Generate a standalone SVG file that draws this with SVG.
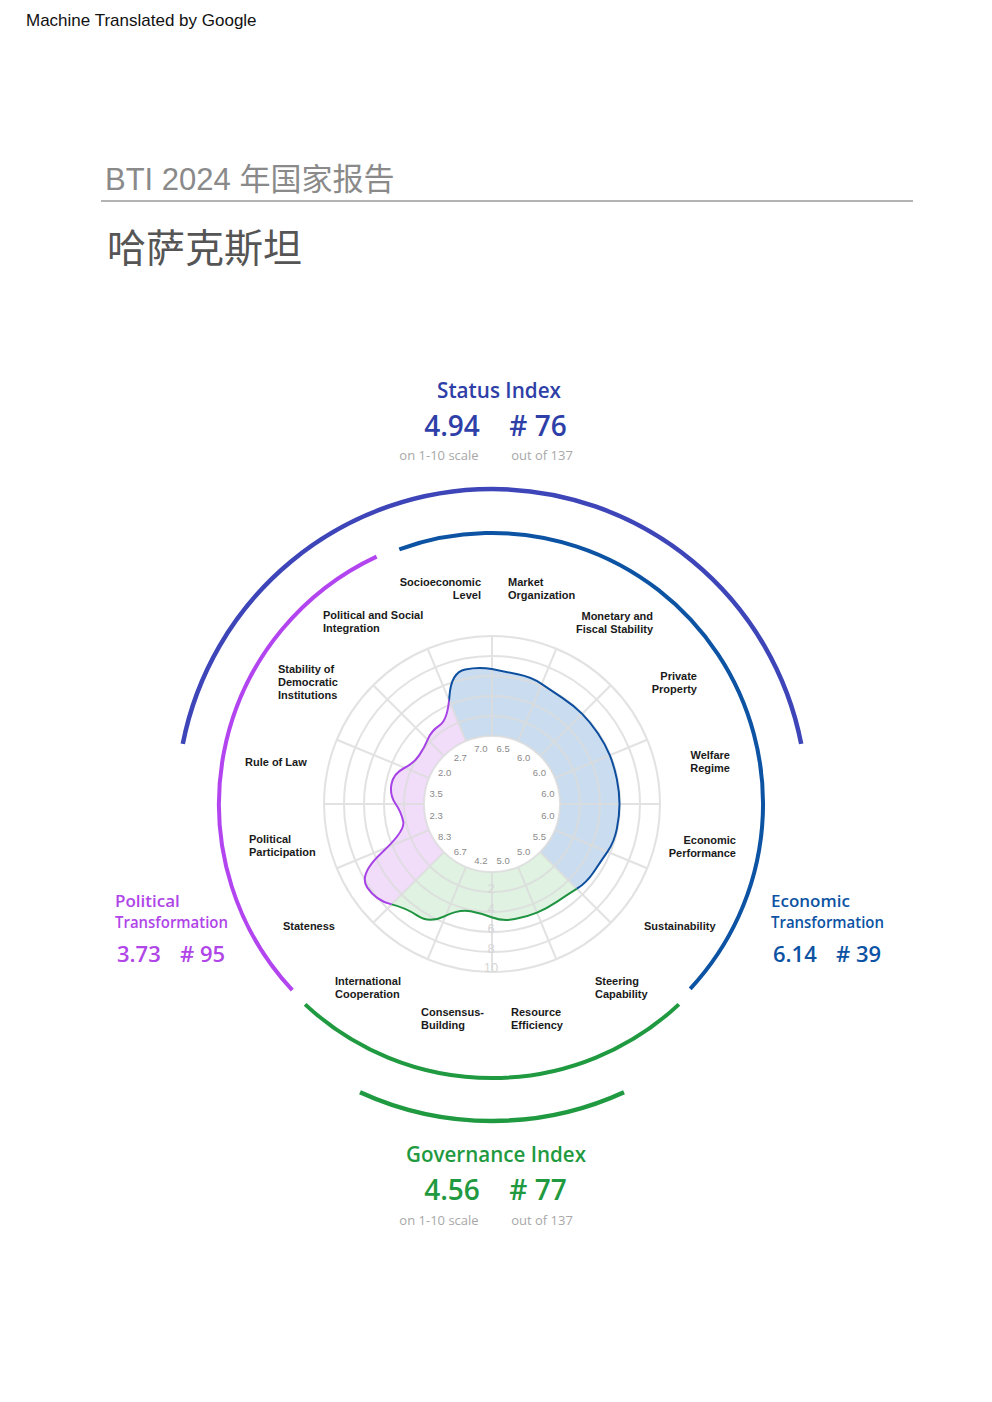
<svg xmlns="http://www.w3.org/2000/svg" width="992" height="1402" viewBox="0 0 992 1402">
<style>
.ax{font-family:"Liberation Sans",Arial,sans-serif;font-size:11px;font-weight:bold;fill:#1a1a1a}
.v{font-family:"Liberation Sans",Arial,sans-serif;font-size:9.5px;fill:#8a8a8a;text-anchor:middle}
.rv{font-family:"Liberation Sans",Arial,sans-serif;font-size:13px;fill:#d6d6d6;text-anchor:middle}
.h{font-family:"Open Sans","Liberation Sans",sans-serif}
.sub{font-family:"Open Sans","Liberation Sans",sans-serif;font-size:13px;fill:#a8a8a8;text-anchor:middle}
.grid{fill:none;stroke:#dcdcdc;stroke-width:2}
</style>
<defs>
<clipPath id="ce"><polygon points="492,804 396.3,573 668.8,627.2 742,804 668.8,980.8"/></clipPath>
<clipPath id="cg"><polygon points="492,804 668.8,980.8 492,1054 315.2,980.8"/></clipPath>
<clipPath id="cp"><polygon points="492,804 315.2,980.8 242,804 315.2,627.2 396.3,573"/></clipPath>
<path id="shape" d="M449.45,696.05 Q451.1,672.2 465.25,669.4 Q479.4,666.6 491.8,669.1 Q504.2,671.6 517.8,674.3 Q531.4,677 541.5,683.85 Q551.6,690.7 562.7,698.15 Q573.8,705.6 582.1,713.9 Q590.4,722.2 597.85,733.3 Q605.3,744.4 609.75,755.2 Q614.2,766 616.85,779.15 Q619.5,792.3 619.5,804 Q619.5,815.7 616.85,828.85 Q614.2,842 607.55,851.65 Q600.9,861.3 593.75,871.95 Q586.6,882.6 577,888.65 Q567.4,894.7 557.15,901.55 Q546.9,908.4 536.95,912.55 Q527,916.7 514.9,919.1 Q502.8,921.5 492.35,917.5 Q481.9,913.5 470.65,911.3 Q459.4,909.1 444.25,916.3 Q429.1,923.5 417.4,915.65 Q405.7,907.8 390.8,904.15 Q375.9,900.5 367.15,887.4 Q358.4,874.3 381.75,852.65 Q405.1,831 403.25,821.65 Q401.4,812.3 395.4,803.45 Q389.4,794.6 391.5,784.05 Q393.6,773.5 403.85,768.25 Q414.1,763 419.2,755.35 Q424.3,747.7 427.8,739.35 Q431.3,731 439.55,725.45 Q447.8,719.9 449.45,696.05 Z"/>
<path id="fillshape" fill-rule="evenodd" d="M449.45,696.05 Q451.1,672.2 465.25,669.4 Q479.4,666.6 491.8,669.1 Q504.2,671.6 517.8,674.3 Q531.4,677 541.5,683.85 Q551.6,690.7 562.7,698.15 Q573.8,705.6 582.1,713.9 Q590.4,722.2 597.85,733.3 Q605.3,744.4 609.75,755.2 Q614.2,766 616.85,779.15 Q619.5,792.3 619.5,804 Q619.5,815.7 616.85,828.85 Q614.2,842 607.55,851.65 Q600.9,861.3 593.75,871.95 Q586.6,882.6 577,888.65 Q567.4,894.7 557.15,901.55 Q546.9,908.4 536.95,912.55 Q527,916.7 514.9,919.1 Q502.8,921.5 492.35,917.5 Q481.9,913.5 470.65,911.3 Q459.4,909.1 444.25,916.3 Q429.1,923.5 417.4,915.65 Q405.7,907.8 390.8,904.15 Q375.9,900.5 367.15,887.4 Q358.4,874.3 381.75,852.65 Q405.1,831 403.25,821.65 Q401.4,812.3 395.4,803.45 Q389.4,794.6 391.5,784.05 Q393.6,773.5 403.85,768.25 Q414.1,763 419.2,755.35 Q424.3,747.7 427.8,739.35 Q431.3,731 439.55,725.45 Q447.8,719.9 449.45,696.05 Z M560,804 A68,68 0 1 0 424,804 A68,68 0 1 0 560,804 Z"/>
</defs>
<rect width="992" height="1402" fill="#fff"/>
<text x="26" y="26" font-family="Liberation Sans,Arial,sans-serif" font-size="17" fill="#111">Machine Translated by Google</text>
<text x="105" y="190" font-family="Liberation Sans,'Noto Sans CJK SC',sans-serif" font-size="31" fill="#8a8a8a">BTI 2024 年国家报告</text>
<line x1="101" y1="201" x2="913" y2="201" stroke="#9a9a9a" stroke-width="1.5"/>
<text x="107" y="262" font-family="'Noto Sans CJK SC',sans-serif" font-size="39" fill="#555">哈萨克斯坦</text>

<g id="fills">
<use href="#fillshape" fill="#cadcef" clip-path="url(#ce)"/>
<use href="#fillshape" fill="#e0f2e2" clip-path="url(#cg)"/>
<use href="#fillshape" fill="#f1ddfa" clip-path="url(#cp)"/>
</g>
<g id="grid" opacity="0.8">
<circle class="grid" cx="492" cy="804" r="68"/>
<circle class="grid" cx="492" cy="804" r="88"/>
<circle class="grid" cx="492" cy="804" r="108"/>
<circle class="grid" cx="492" cy="804" r="128"/>
<circle class="grid" cx="492" cy="804" r="148"/>
<circle class="grid" cx="492" cy="804" r="168"/>
<g transform="translate(492 804)">
<line class="grid" x1="0" y1="-68" x2="0" y2="-168"/>
<line class="grid" x1="0" y1="-68" x2="0" y2="-168" transform="rotate(22.5)"/>
<line class="grid" x1="0" y1="-68" x2="0" y2="-168" transform="rotate(45)"/>
<line class="grid" x1="0" y1="-68" x2="0" y2="-168" transform="rotate(67.5)"/>
<line class="grid" x1="0" y1="-68" x2="0" y2="-168" transform="rotate(90)"/>
<line class="grid" x1="0" y1="-68" x2="0" y2="-168" transform="rotate(112.5)"/>
<line class="grid" x1="0" y1="-68" x2="0" y2="-168" transform="rotate(135)"/>
<line class="grid" x1="0" y1="-68" x2="0" y2="-168" transform="rotate(157.5)"/>
<line class="grid" x1="0" y1="-68" x2="0" y2="-168" transform="rotate(180)"/>
<line class="grid" x1="0" y1="-68" x2="0" y2="-168" transform="rotate(202.5)"/>
<line class="grid" x1="0" y1="-68" x2="0" y2="-168" transform="rotate(225)"/>
<line class="grid" x1="0" y1="-68" x2="0" y2="-168" transform="rotate(247.5)"/>
<line class="grid" x1="0" y1="-68" x2="0" y2="-168" transform="rotate(270)"/>
<line class="grid" x1="0" y1="-68" x2="0" y2="-168" transform="rotate(292.5)"/>
<line class="grid" x1="0" y1="-68" x2="0" y2="-168" transform="rotate(315)"/>
<line class="grid" x1="0" y1="-68" x2="0" y2="-168" transform="rotate(337.5)"/>
</g>
</g>
<g id="ringvalues">
<text class="rv" x="491" y="893">2</text>
<text class="rv" x="491" y="913">4</text>
<text class="rv" x="491" y="933">6</text>
<text class="rv" x="491" y="953">8</text>
<text class="rv" x="491" y="972">10</text>
</g>
<g id="outline" fill="none" stroke-width="2">
<use href="#shape" stroke="#0d4f9e" clip-path="url(#ce)"/>
<use href="#shape" stroke="#1f9440" clip-path="url(#cg)"/>
<use href="#shape" stroke="#a642e6" clip-path="url(#cp)"/>
</g>
<g id="values">
<text class="v" x="480.9" y="752">7.0</text>
<text class="v" x="503.1" y="752">6.5</text>
<text class="v" x="523.7" y="761">6.0</text>
<text class="v" x="539.4" y="776">6.0</text>
<text class="v" x="547.9" y="797">6.0</text>
<text class="v" x="547.9" y="819">6.0</text>
<text class="v" x="539.4" y="840">5.5</text>
<text class="v" x="523.7" y="855">5.0</text>
<text class="v" x="503.1" y="864">5.0</text>
<text class="v" x="480.9" y="864">4.2</text>
<text class="v" x="460.3" y="855">6.7</text>
<text class="v" x="444.6" y="840">8.3</text>
<text class="v" x="436.1" y="819">2.3</text>
<text class="v" x="436.1" y="797">3.5</text>
<text class="v" x="444.6" y="776">2.0</text>
<text class="v" x="460.3" y="761">2.7</text>
</g>
<g id="connectors" fill="none">
<path d="M182.8,743.9 A315,315 0 0 1 801.2,743.9" stroke="#3d45b8" stroke-width="4.5"/>
<path d="M399.3,549.3 A271,271 0 0 1 690.2,988.8" stroke="#0d53a3" stroke-width="4"/>
<path d="M292.3,990.2 A273,273 0 0 1 376.6,556.6" stroke="#b345f0" stroke-width="4"/>
<path d="M678.9,1004.4 A274,274 0 0 1 305.1,1004.4" stroke="#1f9a40" stroke-width="4"/>
<path d="M624,1092.2 A317,317 0 0 1 360,1092.2" stroke="#1f9a40" stroke-width="4.5"/>
</g>
<g id="axislabels" class="ax">
<text class="ax" x="481" y="586" text-anchor="end">Socioeconomic</text>
<text class="ax" x="481" y="599" text-anchor="end">Level</text>
<text class="ax" x="508" y="586">Market</text>
<text class="ax" x="508" y="599">Organization</text>
<text class="ax" x="323" y="619">Political and Social</text>
<text class="ax" x="323" y="632">Integration</text>
<text class="ax" x="653" y="620" text-anchor="end">Monetary and</text>
<text class="ax" x="653" y="633" text-anchor="end">Fiscal Stability</text>
<text class="ax" x="278" y="673">Stability of</text>
<text class="ax" x="278" y="686">Democratic</text>
<text class="ax" x="278" y="699">Institutions</text>
<text class="ax" x="697" y="680" text-anchor="end">Private</text>
<text class="ax" x="697" y="693" text-anchor="end">Property</text>
<text class="ax" x="245" y="766">Rule of Law</text>
<text class="ax" x="730" y="759" text-anchor="end">Welfare</text>
<text class="ax" x="730" y="772" text-anchor="end">Regime</text>
<text class="ax" x="249" y="843">Political</text>
<text class="ax" x="249" y="856">Participation</text>
<text class="ax" x="736" y="844" text-anchor="end">Economic</text>
<text class="ax" x="736" y="857" text-anchor="end">Performance</text>
<text class="ax" x="283" y="930">Stateness</text>
<text class="ax" x="644" y="930">Sustainability</text>
<text class="ax" x="335" y="985">International</text>
<text class="ax" x="335" y="998">Cooperation</text>
<text class="ax" x="595" y="985">Steering</text>
<text class="ax" x="595" y="998">Capability</text>
<text class="ax" x="421" y="1016">Consensus-</text>
<text class="ax" x="421" y="1029">Building</text>
<text class="ax" x="511" y="1016">Resource</text>
<text class="ax" x="511" y="1029">Efficiency</text>
</g>
<g id="status">
<text class="h" x="499" y="398" font-size="22" fill="#2e3fa8" text-anchor="middle" font-weight="600" textLength="124" lengthAdjust="spacingAndGlyphs">Status Index</text>
<text class="h" x="452" y="436" font-size="28" fill="#2e3fa8" text-anchor="middle" font-weight="600">4.94</text>
<text class="h" x="538" y="436" font-size="28" fill="#2e3fa8" text-anchor="middle" font-weight="600"># 76</text>
<text class="sub" x="439" y="460">on 1-10 scale</text>
<text class="sub" x="542" y="460">out of 137</text>
</g>
<g id="political">
<text class="h" x="115" y="907" font-size="17" fill="#b045e8" font-weight="600">Political</text>
<text class="h" x="115" y="928" font-size="17" fill="#b045e8" font-weight="600" textLength="113" lengthAdjust="spacingAndGlyphs">Transformation</text>
<text class="h" x="117" y="962" font-size="22" fill="#b045e8" font-weight="600">3.73</text>
<text class="h" x="180" y="962" font-size="22" fill="#b045e8" font-weight="600"># 95</text>
</g>
<g id="economic">
<text class="h" x="771" y="907" font-size="17" fill="#0d53a3" font-weight="600">Economic</text>
<text class="h" x="771" y="928" font-size="17" fill="#0d53a3" font-weight="600" textLength="113" lengthAdjust="spacingAndGlyphs">Transformation</text>
<text class="h" x="773" y="962" font-size="22" fill="#0d53a3" font-weight="600">6.14</text>
<text class="h" x="836" y="962" font-size="22" fill="#0d53a3" font-weight="600"># 39</text>
</g>
<g id="governance">
<text class="h" x="496" y="1162" font-size="21" fill="#1f9a40" text-anchor="middle" font-weight="600" textLength="180" lengthAdjust="spacingAndGlyphs">Governance Index</text>
<text class="h" x="452" y="1200" font-size="28" fill="#1f9a40" text-anchor="middle" font-weight="600">4.56</text>
<text class="h" x="538" y="1200" font-size="28" fill="#1f9a40" text-anchor="middle" font-weight="600"># 77</text>
<text class="sub" x="439" y="1225">on 1-10 scale</text>
<text class="sub" x="542" y="1225">out of 137</text>
</g>
</svg>
